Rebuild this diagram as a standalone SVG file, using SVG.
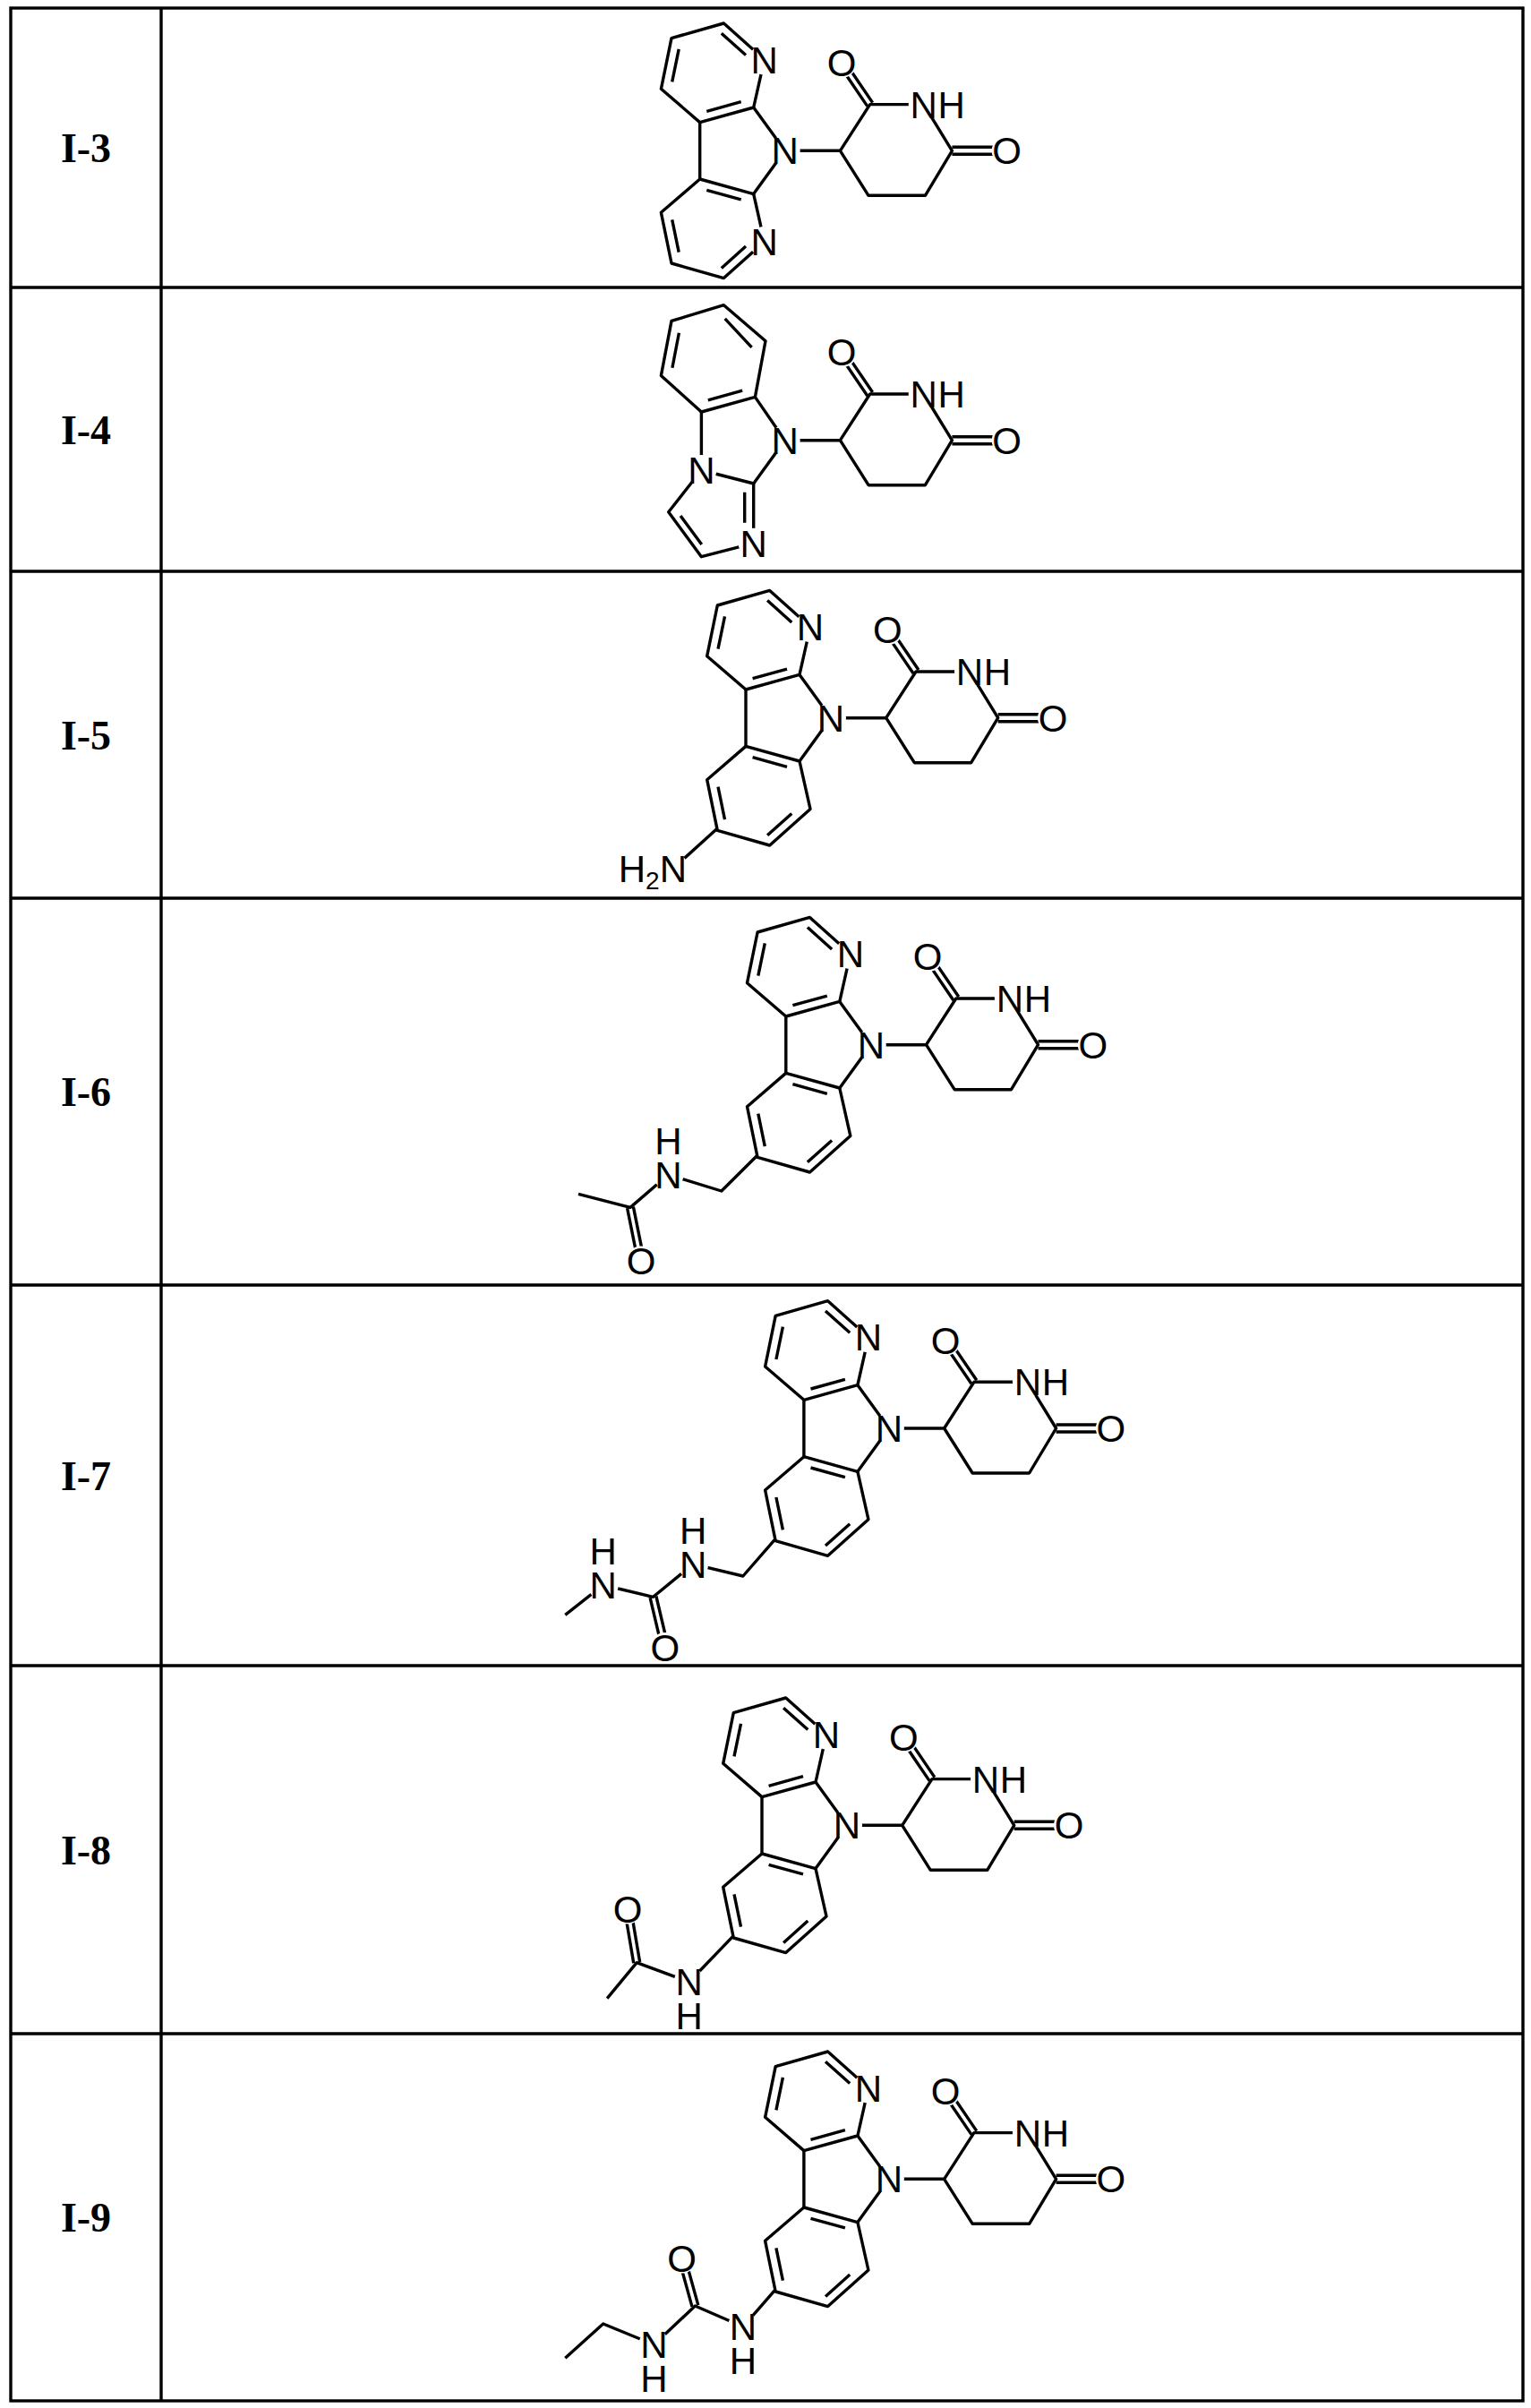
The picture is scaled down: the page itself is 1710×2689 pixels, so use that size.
<svg xmlns="http://www.w3.org/2000/svg" xmlns:xlink="http://www.w3.org/1999/xlink" width="1710" height="2689" viewBox="0 0 1710 2689">
<style>
.b{stroke:#000;stroke-width:3.4;fill:none;stroke-linejoin:round}
.t{stroke:#000;stroke-width:3.4;fill:none}
.bg{fill:#fff}
.a{font-family:"Liberation Sans",Arial,sans-serif;font-size:42px;text-anchor:middle;fill:#000}
.lbl{font-family:"Liberation Serif","Times New Roman",serif;font-size:46px;font-weight:bold;text-anchor:middle;fill:#000}
</style>
<defs>
<g id="ring">
<path class="b" d="M-35,-48.3 L-23,-101.7 L-68.3,-142.3 L-126.7,-125.7 L-138.3,-69 L-95,-31.7 Z"/>
<path class="b" d="M-43.7,-106.8 L-70.9,-131.1 M-118.5,-113.4 L-126,-77 M-87.4,-44 L-49,-54.6"/>
</g>
<g id="glut">
<path class="b" d="M0,0 L61.7,0 M61.7,0 L95,-51.7 L155,-51.7 L186.7,0 L156.7,50 L93.3,50 Z"/>
<path class="b" d="M97.9,-53.7 L66.2,-100.3 M92.1,-49.7 L60.4,-96.3 M186.7,-4 L248,-4 M186.7,4 L248,4"/>
<circle class="bg" cx="155" cy="-51.7" r="17"/><text class="a" x="155" y="-36.7">N</text><text class="a" x="186" y="-36.7">H</text>
<circle class="bg" cx="63.3" cy="-98.3" r="17"/><text class="a" x="63.3" y="-83.3">O</text>
<circle class="bg" cx="248" cy="0" r="17"/><text class="a" x="248" y="15">O</text>
</g>
<g id="core">
<use xlink:href="#ring"/>
<use xlink:href="#ring" transform="scale(1,-1)"/>
<path class="b" d="M-95,-31.7 L-95,31.7 M-35,-48.3 L0,0 L-35,48.3"/>
<use xlink:href="#glut"/>
<circle class="bg" cx="0" cy="0" r="17"/><text class="a" x="0" y="15">N</text>
<circle class="bg" cx="-23" cy="-101.7" r="17"/><text class="a" x="-23" y="-86.7">N</text>
</g>
</defs>
<rect width="1710" height="2689" fill="#fff"/>
<g id="table">
<rect class="t" x="12" y="9" width="1689" height="2672"/>
<path class="t" d="M180,9 V2681 M12,321 H1701 M12,638 H1701 M12,1003 H1701 M12,1435 H1701 M12,1860 H1701 M12,2271 H1701"/>
</g>
<g id="labels">
<text class="lbl" x="96" y="181">I-3</text>
<text class="lbl" x="96" y="496">I-4</text>
<text class="lbl" x="96" y="837">I-5</text>
<text class="lbl" x="96" y="1235">I-6</text>
<text class="lbl" x="96" y="1664">I-7</text>
<text class="lbl" x="96" y="2082">I-8</text>
<text class="lbl" x="96" y="2492">I-9</text>
</g>
<g id="I-3" transform="translate(876.7,168.3)">
<use xlink:href="#core"/>
<circle class="bg" cx="-23" cy="101.7" r="17"/><text class="a" x="-23" y="116.7">N</text>
</g>
<g id="I-4" transform="translate(876.7,491.7)">
<path class="b" d="M-33.3,-48.3 L-21.7,-111 L-68.3,-151 L-126.7,-133.3 L-138.3,-72.3 L-93.3,-31.7 Z"/>
<path class="b" d="M-37.1,-103.9 L-67,-135.9 M-118.3,-120 L-125.8,-81 M-85.9,-44.9 L-47.5,-55.6"/>
<path class="b" d="M-93.3,-31.7 L-93.3,33.3 L-35,48.3 L0,0 L-33.3,-48.3"/>
<path class="b" d="M-93.3,33.3 L-130,80 L-93.3,130 L-35,115 L-35,48.3"/>
<path class="b" d="M-116.6,84.3 L-93,116.3 M-45,58 L-45,92"/>
<use xlink:href="#glut"/>
<circle class="bg" cx="0" cy="0" r="17"/><text class="a" x="0" y="15">N</text>
<circle class="bg" cx="-93.3" cy="33.3" r="17"/><text class="a" x="-93.3" y="48.3">N</text>
<circle class="bg" cx="-35" cy="115" r="17"/><text class="a" x="-35" y="130">N</text>
</g>
<g id="I-5" transform="translate(928,801.7)">
<use xlink:href="#core"/>
<path class="b" d="M-126.7,123.3 L-176,168"/>
<circle class="bg" cx="-176" cy="168" r="17"/>
<text class="a" style="text-anchor:end" x="-161" y="183">H<tspan font-size="28" dy="8">2</tspan><tspan dy="-8">N</tspan></text>
</g>
<g id="I-6" transform="translate(972.8,1166.7)">
<use xlink:href="#core"/>
<path class="b" d="M-126.7,123.3 L-167,163.3 L-226.3,145 L-268.8,181.7 L-326.8,166.7"/>
<path class="b" d="M-265.4,181 L-253.3,241 M-272.2,182.4 L-260.1,242.4"/>
<circle class="bg" cx="-226.3" cy="145" r="17"/><text class="a" x="-226.3" y="160">N</text><text class="a" x="-226.3" y="122">H</text>
<circle class="bg" cx="-256.7" cy="241.7" r="17"/><text class="a" x="-256.7" y="256.7">O</text>
</g>
<g id="I-7" transform="translate(992.9,1595)">
<use xlink:href="#core"/>
<path class="b" d="M-126.7,123.3 L-163,165 L-218.8,151.7 L-263.4,188.3 L-319.2,175 L-361.6,208.3"/>
<path class="b" d="M-260,187.5 L-246.6,244.2 M-266.8,189.1 L-253.4,245.8"/>
<circle class="bg" cx="-218.8" cy="151.7" r="17"/><text class="a" x="-218.8" y="166.7">N</text><text class="a" x="-218.8" y="128.7">H</text>
<circle class="bg" cx="-319.2" cy="175" r="17"/><text class="a" x="-319.2" y="190">N</text><text class="a" x="-319.2" y="152">H</text>
<circle class="bg" cx="-250" cy="245" r="17"/><text class="a" x="-250" y="260">O</text>
</g>
<g id="I-8" transform="translate(946,2038.3)">
<use xlink:href="#core"/>
<path class="b" d="M-126.7,123.3 L-176.3,175 L-234.8,153.3 L-267.9,193.3"/>
<path class="b" d="M-231.35,152.7 L-241.55,92.7 M-238.25,153.9 L-248.45,93.9"/>
<circle class="bg" cx="-176.3" cy="175" r="17"/><text class="a" x="-176.3" y="190">N</text><text class="a" x="-176.3" y="228">H</text>
<circle class="bg" cx="-245" cy="93.3" r="17"/><text class="a" x="-245" y="108.3">O</text>
</g>
<g id="I-9" transform="translate(992.9,2433.3)">
<use xlink:href="#core"/>
<path class="b" d="M-126.7,123.3 L-163,165 L-216.5,141.7 L-262.5,185 L-319.2,161.7 L-361.6,200"/>
<path class="b" d="M-213.1,140.8 L-227.9,87.4 M-219.9,142.6 L-234.7,89.2"/>
<circle class="bg" cx="-163" cy="165" r="17"/><text class="a" x="-163" y="180">N</text><text class="a" x="-163" y="218">H</text>
<circle class="bg" cx="-262.5" cy="185" r="17"/><text class="a" x="-262.5" y="200">N</text><text class="a" x="-262.5" y="238">H</text>
<circle class="bg" cx="-231.3" cy="88.3" r="17"/><text class="a" x="-231.3" y="103.3">O</text>
</g>
<g id="connectors"></g>
</svg>
